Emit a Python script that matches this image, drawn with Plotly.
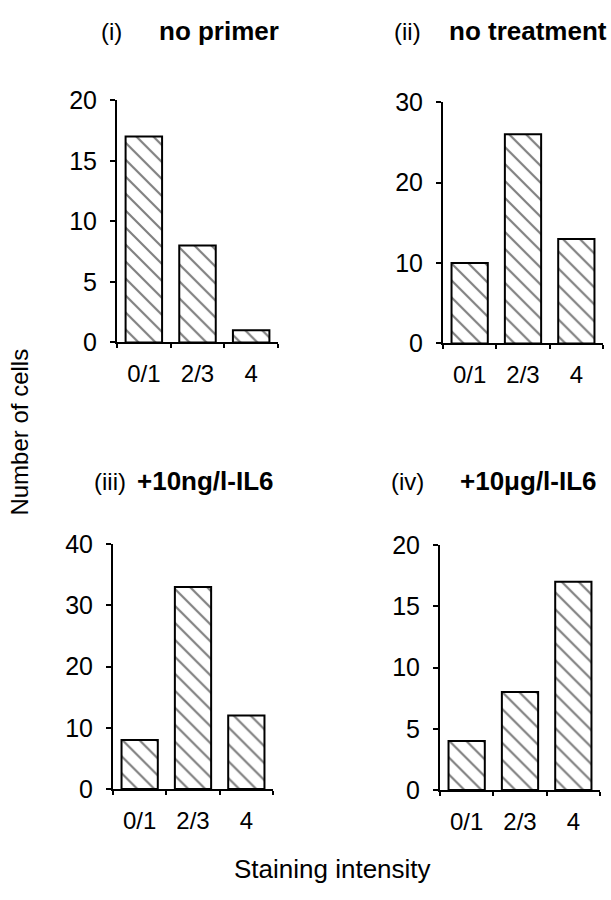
import plotly.graph_objects as go

categories = ["0/1", "2/3", "4"]
no_primer = [17, 8, 1]
no_treatment = [10, 26, 13]
il6_10ng = [8, 33, 12]
il6_10ug = [4, 8, 17]

panel_labels = ["(i)", "(ii)", "(iii)", "(iv)"]
panel_titles = ["no primer", "no treatment", "+10ng/l-IL6", "+10\u03bcg/l-IL6"]
y_ranges = [20, 30, 40, 20]
y_dticks = [5, 10, 10, 5]
series = [no_primer, no_treatment, il6_10ng, il6_10ug]

W, H = 611, 900
FONT = "Liberation Sans, Arial, Helvetica, sans-serif"

# target pixel boxes in the screenshot (left, right, top, bottom)
boxes = [(117, 278, 89, 339), (443, 603, 91, 340),
         (113, 273, 547, 800), (440, 600, 548, 801)]
# title positions: label center x, title left x, center y
title_pos = [(111, 157, 18), (407, 447, 18), (110, 135, 482), (407, 458, 482)]


def px(x):
    return x / W


def py(y):
    return 1 - y / H


fig = go.Figure()
for i, (vals, box) in enumerate(zip(series, boxes)):
    xa = "x" if i == 0 else f"x{i+1}"
    ya = "y" if i == 0 else f"y{i+1}"
    fig.add_trace(go.Bar(
        x=categories, y=vals, xaxis=xa, yaxis=ya,
        marker=dict(color="white", line=dict(color="black", width=2),
                    pattern=dict(shape="\\", fgcolor="black", bgcolor="white",
                                 size=12, solidity=0.18)),
        width=0.68, showlegend=False))
    l, r, t, b = box
    xkey = "xaxis" if i == 0 else f"xaxis{i+1}"
    ykey = "yaxis" if i == 0 else f"yaxis{i+1}"
    fig.layout[xkey] = dict(
        domain=[px(l), px(r)], anchor=ya, type="category",
        range=[-0.5, 2.5], tickson="boundaries", ticks="outside",
        ticklen=4, tickwidth=2, tickcolor="black",
        showline=True, linecolor="black", linewidth=2,
        showgrid=False, zeroline=False,
        tickfont=dict(family=FONT, size=24, color="black"),
        ticklabelstandoff=9)
    fig.layout[ykey] = dict(
        domain=[py(b), py(t)], anchor=xa,
        range=[0, y_ranges[i]], dtick=y_dticks[i], tick0=0,
        ticks="outside", ticklen=5, tickwidth=2, tickcolor="black",
        showline=True, linecolor="black", linewidth=2,
        showgrid=False, zeroline=False,
        tickfont=dict(family=FONT, size=25, color="black"),
        ticklabelstandoff=8)
    lx, tx, ty = title_pos[i]
    fig.add_annotation(x=px(lx), y=py(ty), xref="paper", yref="paper",
                       text=panel_labels[i], showarrow=False, xanchor="center",
                       yanchor="middle",
                       font=dict(family=FONT, size=24, color="black"))
    fig.add_annotation(x=px(tx), y=py(ty), xref="paper", yref="paper",
                       text="<b>" + panel_titles[i] + "</b>", showarrow=False,
                       xanchor="left", yanchor="middle",
                       font=dict(family=FONT, size=26, color="black"))

fig.add_annotation(x=px(20), y=py(432), xref="paper", yref="paper",
                   text="Number of cells", textangle=-90, showarrow=False,
                   xanchor="center", yanchor="middle",
                   font=dict(family=FONT, size=24, color="black"))
fig.add_annotation(x=px(332), y=py(882), xref="paper", yref="paper",
                   text="Staining intensity", showarrow=False,
                   xanchor="center", yanchor="middle",
                   font=dict(family=FONT, size=26, color="black"))

fig.update_layout(width=W, height=H, margin=dict(l=0, r=0, t=0, b=0),
                  paper_bgcolor="white", plot_bgcolor="white", bargap=0.3)
fig.write_html("out.html",
               config={"displayModeBar": False},
               post_script="document.body.style.margin='0px';"
                           "document.body.style.overflow='hidden';")
